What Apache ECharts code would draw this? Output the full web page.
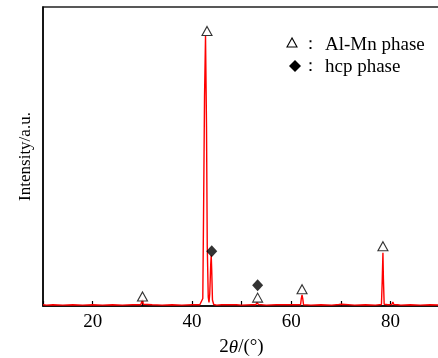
<!DOCTYPE html>
<html>
<head>
<meta charset="utf-8">
<script src="https://cdn.jsdelivr.net/npm/echarts@6/dist/echarts.min.js"></script>
<style>html,body{margin:0;padding:0;background:#fff;}#c{width:438px;height:358px;}</style>
</head>
<body>
<div id="c"></div>
<script>
// XRD pattern: [2theta, intensity]
var pattern = [
  [10.0,0.4],[10.4,0.9],[10.7,0.3],[12,0.4],[14,0.3],[16,0.4],[18,0.3],[20,0.4],[22,0.3],[24,0.4],
  [26,0.3],[28,0.4],[29.7,0.4],[29.9,1.4],[30.05,2.2],[30.2,0.6],[30.5,0.3],[32,0.4],[34,0.3],
  [36,0.4],[38,0.3],[40,0.4],[41.6,0.4],[42.0,0.8],[42.2,2.5],[42.35,30],[42.55,70],[42.75,90.3],
  [42.95,60],[43.1,20],[43.3,3],[43.45,1.2],[43.6,4],[43.8,14],[43.9,17],[44.0,12],[44.15,2],
  [44.4,0.5],[45,0.3],[46,0.4],[46.8,0.4],[47.0,0.9],[47.2,0.3],[49,0.4],[50,0.3],[52,0.4],
  [52.9,0.4],[53.1,1.2],[53.25,1.5],[53.4,0.5],[55,0.3],[57,0.4],[58.8,0.4],[58.9,0.9],[59.0,0.3],
  [60.4,0.4],[60.6,0.9],[60.8,0.3],[61.9,0.4],[62.05,2.5],[62.2,3.7],[62.35,2.4],[62.5,0.4],
  [64,0.3],[66,0.4],[68.2,0.3],[68.4,0.8],[68.6,0.3],[69.6,0.5],[69.8,0.9],[70.0,1.1],[70.2,0.6],
  [70.5,0.3],[72.8,0.3],[73.0,0.8],[73.2,0.3],[75,0.4],[77,0.3],[78.2,0.5],[78.35,8],[78.5,17.8],
  [78.6,9],[78.75,0.6],[79.5,0.4],[80.3,0.5],[80.5,1.3],[80.7,0.5],[81.5,0.4],[81.9,0.8],[82.1,0.3],
  [84,0.4],[86,0.3],[88,0.4],[90,0.3]
];
// Al-Mn phase markers (triangles)
var alMnMarks = [[30.05,3.2],[43.05,92],[53.25,2.8],[62.2,5.6],[78.5,20]];
// hcp phase markers (diamonds)
var hcpMarks = [[44.0,18.3],[53.25,6.9]];
var xTickLabels = [20,40,60,80];
var legendItems = ['Al-Mn phase','hcp phase'];

var serif = "'Liberation Serif','Times New Roman',serif";
var chart = echarts.init(document.getElementById('c'), null, {renderer:'canvas'});
chart.setOption({
  animation:false,
  backgroundColor:'#fff',
  grid:{left:43, top:7, width:397, height:299, show:true, borderColor:'#222', borderWidth:1.5, containLabel:false, outerBoundsMode:'none'},
  xAxis:{
    type:'value', min:10, max:90, interval:10,
    axisLine:{show:true, onZero:false, lineStyle:{color:'#000', width:1.5}},
    axisTick:{show:true, inside:true, length:5, lineStyle:{color:'#000', width:1.2}},
    splitLine:{show:false},
    axisLabel:{margin:7, fontFamily:serif, fontSize:19, color:'#000',
      formatter:function(v){return xTickLabels.indexOf(v)>=0 ? String(v) : '';}},
    name:'{a|2}{b|θ}{a|/(°)}', nameLocation:'middle', nameGap:32,
    nameTextStyle:{rich:{a:{fontFamily:serif,fontSize:19,color:'#000'},b:{fontFamily:serif,fontSize:19,fontStyle:'italic',color:'#000'}}}
  },
  yAxis:{
    type:'value', min:0, max:100,
    axisLine:{show:true, lineStyle:{color:'#000', width:1.5}},
    axisTick:{show:false}, axisLabel:{show:false}, splitLine:{show:false},
    name:'Intensity/a.u.', nameLocation:'middle', nameGap:9,
    nameTextStyle:{fontFamily:serif, fontSize:17, color:'#000'}
  },
  series:[
    {type:'line', data:pattern, showSymbol:false, symbol:'none', lineStyle:{color:'#ff0000', width:1.4}, z:3},
    {type:'scatter', data:alMnMarks, symbol:'triangle', symbolSize:[10,9],
      itemStyle:{color:'#fff', borderColor:'#000', borderWidth:1.1}, z:5},
    {type:'scatter', data:hcpMarks, symbol:'diamond', symbolSize:[11,12],
      itemStyle:{color:'#000'}, z:5}
  ],
  graphic:[
    {type:'polygon', shape:{points:[[292,38],[287,47],[297,47]]}, style:{fill:'#fff', stroke:'#000', lineWidth:1.1}},
    {type:'text', x:302, y:45, style:{text:'：', font:'17px '+serif, fill:'#000', verticalAlign:'middle'}},
    {type:'text', x:325, y:45, style:{text:legendItems[0], font:'19px '+serif, fill:'#000', verticalAlign:'middle'}},
    {type:'polygon', shape:{points:[[295,60],[301,66],[295,72],[289,66]]}, style:{fill:'#000'}},
    {type:'text', x:302, y:67, style:{text:'：', font:'17px '+serif, fill:'#000', verticalAlign:'middle'}},
    {type:'text', x:325, y:67, style:{text:legendItems[1], font:'19px '+serif, fill:'#000', verticalAlign:'middle'}}
  ]
});
</script>
</body>
</html>
